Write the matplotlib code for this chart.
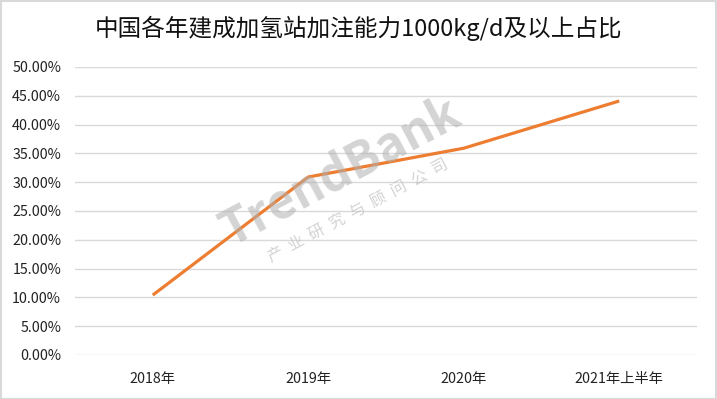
import matplotlib.pyplot as plt
from matplotlib.ticker import PercentFormatter
from matplotlib.patches import Rectangle

plt.rcParams['font.family'] = ['Noto Sans CJK SC', 'DejaVu Sans']

# datos
categories = ['2018年', '2019年', '2020年', '2021年上半年']
ratio = [10.4, 30.9, 35.9, 44.1]
y_ticks = [0, 5, 10, 15, 20, 25, 30, 35, 40, 45, 50]

fig = plt.figure(figsize=(7.17, 3.99), dpi=100)
ax = fig.add_axes([75 / 717, 44 / 399, 622 / 717, 288 / 399])

x = list(range(len(categories)))
ax.plot(x, ratio, color='#ED7D31', linewidth=2.3, solid_capstyle='butt', zorder=3)

ax.set_xlim(-0.5, len(categories) - 0.5)
ax.set_ylim(0, 50)
ax.set_yticks(y_ticks)
ax.yaxis.set_major_formatter(PercentFormatter(decimals=2))
ax.set_xticks(x)
ax.set_xticklabels(categories)
ax.tick_params(axis='both', length=0, labelsize=10.3, colors='#222222')
ax.tick_params(axis='x', pad=12)
ax.tick_params(axis='y', pad=10)
ax.grid(axis='y', color='#d9d9d9', linewidth=1)
ax.set_axisbelow(True)
for s in ax.spines.values():
    s.set_visible(False)

# marca de agua
fig.text(0.475, 0.57, 'TrendBank', fontsize=35, fontweight='bold', fontstyle='italic',
         color='#b0b0b0', alpha=0.55, rotation=28, ha='center', va='center', zorder=2)
fig.text(0.50, 0.47, '产  业  研  究  与  顾  问  公  司', fontsize=11.5, color='#c0c0c0', alpha=0.7,
         rotation=28, ha='center', va='center', zorder=2)

fig.text(0.5, 0.928, '中国各年建成加氢站加注能力1000kg/d及以上占比', fontsize=17,
         fontweight='medium', ha='center', va='center', color='#111111')

fig.patches.append(Rectangle((0.001, 0.001), 0.997, 0.996, transform=fig.transFigure,
                             fill=False, edgecolor='#d9d9d9', linewidth=1.5))

fig.savefig('out.png', dpi=100)
